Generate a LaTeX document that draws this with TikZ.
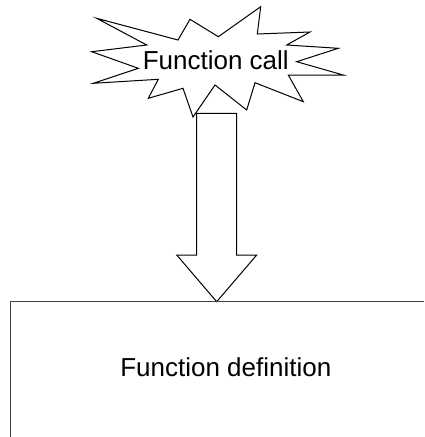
\documentclass[tikz,border=0pt]{standalone}
\usepackage{fontspec}
\setmainfont{Liberation Sans}
\usetikzlibrary{calc}

\tikzset{
  label text/.style={anchor=base, inner sep=0pt, font=\fontsize{26}{30}\selectfont},
  outline/.style={line width=1pt, black, line join=miter},
  frame line/.style={line width=1pt, black!75}
}

\begin{document}
\begin{tikzpicture}[x=1pt,y=-1pt]
    \useasboundingbox (0,0) rectangle (424,437);

    % the burst round the call
    \draw [outline] plot coordinates {(96.7,18.3) (178,40) (190,19.3) (218.3,36.7)
      (260.7,6.7) (257.3,34) (310,32) (286.7,45) (338.3,48.3) (296.7,61.7)
      (343.3,75) (288.3,75) (303.3,101.7) (255,82.7) (246.7,110) (215,85)
      (193,117) (183,88.3) (148.3,98.3) (158.3,79.3) (93.3,83.3) (138.3,68.3)
      (91.7,51.7) (146.7,45)} -- cycle;
    \node [label text] (call) at (215.8,69) {Function call};

    % block arrow down to the definition
    \coordinate (tip) at (216.7,301.7);
    \draw [outline, fill=white] (196.7,113.3) -- (236.7,113.3) -- (236.7,255)
      -- (256.7,255) -- (tip) -- (176.7,255) -- (196.7,255) -- cycle;

    % open box, runs off the page
    \draw [frame line] (424,301.7) -- (10,301.7) -- (10,437);
    \node [label text] (def) at (225.8,376.7) {Function definition};
\end{tikzpicture}
\end{document}
